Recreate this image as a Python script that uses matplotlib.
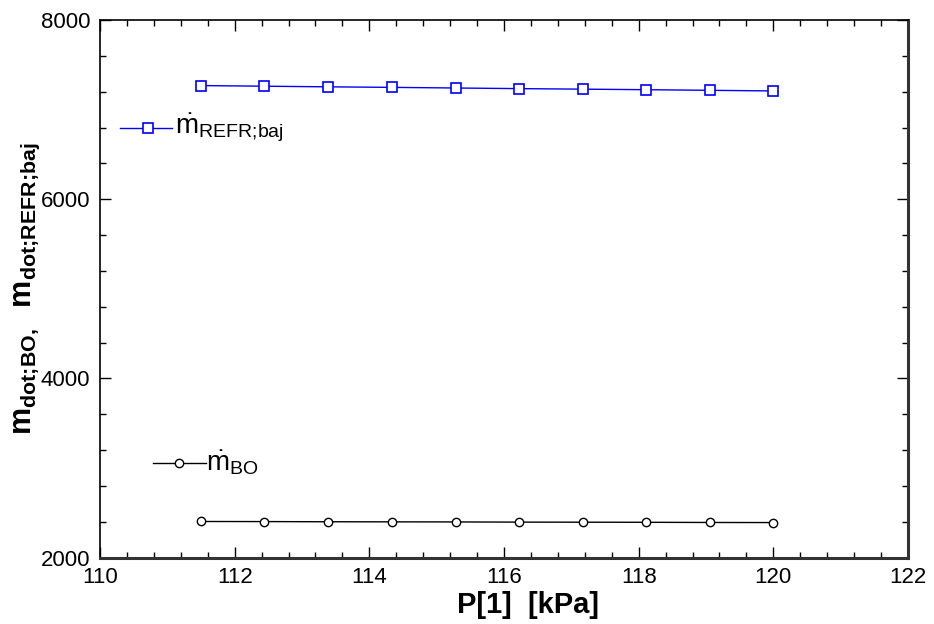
import numpy as np
import matplotlib.pyplot as plt
from matplotlib.ticker import MultipleLocator

plt.rcParams['font.family'] = ['Liberation Sans', 'DejaVu Sans']
plt.rcParams['mathtext.fontset'] = 'custom'
plt.rcParams['mathtext.rm'] = 'Liberation Sans'
plt.rcParams['mathtext.it'] = 'Liberation Sans'
plt.rcParams['mathtext.bf'] = 'Liberation Sans:bold'

# pressure sweep and the two mass flows
p1 = [111.5, 112.44, 113.39, 114.33, 115.28, 116.22, 117.17, 118.11, 119.06, 120.0]
m_refr_baj = [7268, 7261, 7254, 7248, 7241, 7234, 7228, 7222, 7215, 7208]
m_bo = [2402, 2401, 2399, 2398, 2397, 2395, 2394, 2393, 2391, 2390]

fig = plt.figure(figsize=(9.34, 6.24), dpi=100)
ax = fig.add_axes([100 / 934, 1 - 557.5 / 624, 808 / 934, 537.5 / 624])

ax.plot(p1, m_refr_baj, color='#0000ff', lw=1, marker='s', ms=7,
        mfc='white', mec='#0000ff', mew=1.2)
ax.plot(p1, m_bo, color='black', lw=1, marker='o', ms=6,
        mfc='white', mec='black', mew=1)

ax.set_xlim(110, 122)
ax.set_ylim(2000, 8000)
ax.xaxis.set_major_locator(MultipleLocator(2))
ax.xaxis.set_minor_locator(MultipleLocator(0.4))
ax.yaxis.set_major_locator(MultipleLocator(2000))
ax.yaxis.set_minor_locator(MultipleLocator(400))
ax.tick_params(which='both', direction='in', top=True, right=True,
               labelsize=16, color='black')
ax.tick_params(which='major', length=8, width=1)
ax.tick_params(which='minor', length=4, width=1)
ax.tick_params(axis='x', pad=7)
ax.tick_params(axis='y', pad=7)

for s in ['left', 'top']:
    ax.spines[s].set_linewidth(1.2)
for s in ['right', 'bottom']:
    ax.spines[s].set_linewidth(2.2)
    ax.spines[s].set_color('#333333')

ax.set_xlabel('P[1]  [kPa]', fontsize=21, fontweight='bold')
ax.xaxis.set_label_coords(0.53, -0.062)
ax.set_ylabel(r'$\mathbf{m_{dot;\!BO,}}$  $\mathbf{m_{dot;\!REFR;\!baj}}$',
              fontsize=22)
ax.yaxis.set_label_coords(-0.072, 0.5)

# inline curve labels
ax.plot([110.30, 111.07], [6794, 6794], color='#0000ff', lw=1)
ax.plot([110.71], [6794], marker='s', ms=7, mfc='white', mec='#0000ff', mew=1.2)
ax.text(111.12, 6794, r'$\dot{\mathrm{m}}_{\mathrm{REFR;\!baj}}$', fontsize=20,
        va='center', ha='left')

ax.plot([110.785, 111.57], [3056, 3056], color='black', lw=1)
ax.plot([111.17], [3056], marker='o', ms=6, mfc='white', mec='black', mew=1)
ax.text(111.58, 3056, r'$\dot{\mathrm{m}}_{\mathrm{BO}}$', fontsize=20,
        va='center', ha='left')

fig.savefig('out.png', dpi=100)
